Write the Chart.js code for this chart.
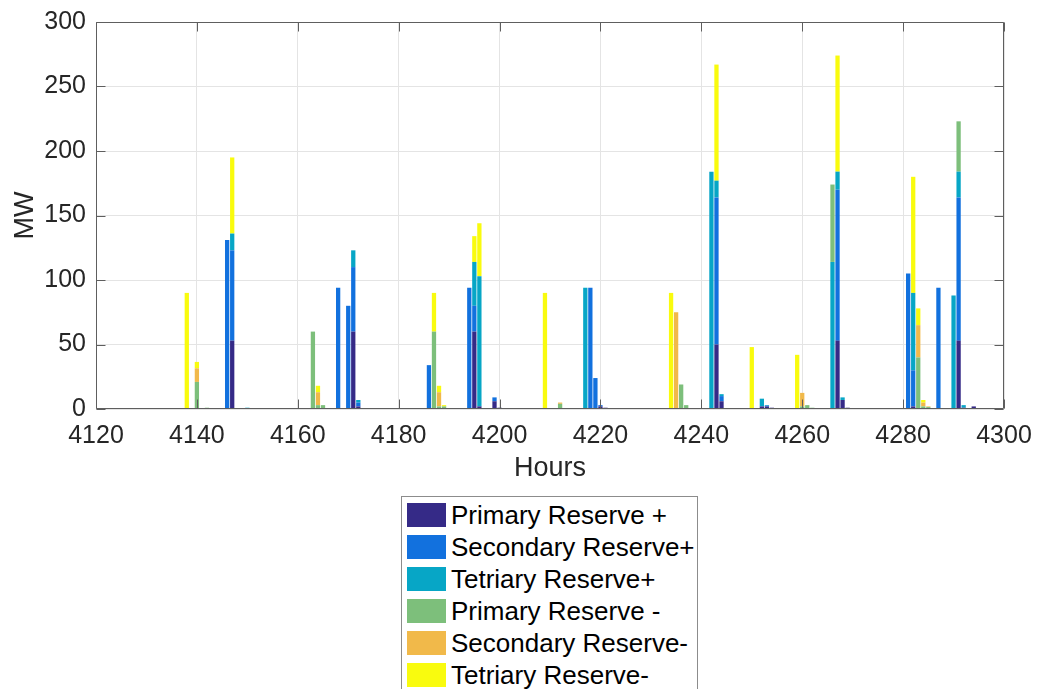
<!DOCTYPE html>
<html>
<head>
<meta charset="utf-8">
<script src="https://cdn.jsdelivr.net/npm/chart.js@4.4.1/dist/chart.umd.min.js"></script>
<style>
  body { margin: 0; background: #fff; font-family: "Liberation Sans", Arial, Helvetica, sans-serif; }
  #wrap { position: relative; width: 1037px; height: 689px; overflow: hidden; }
  #legend {
    position: absolute; left: 401px; top: 496px; width: 297px; height: 220px;
    border: 1px solid #8c8c8c; background: #fff; box-sizing: border-box;
  }
  .item { position: absolute; left: 5px; height: 24px; }
  .swatch { position: absolute; left: 0; top: 0; width: 39px; height: 24px; }
  .label { position: absolute; left: 44px; top: -3px; font-size: 26px; line-height: 30px; color: #000; white-space: nowrap; }
</style>
</head>
<body>
<div id="wrap">
  <canvas id="chart" width="1037" height="484"></canvas>
  <div id="legend"></div>
</div>
<script>
let hours = [
  4138, 4140, 4142, 4146, 4147, 4150, 4163, 4164, 4165, 4166,
  4168, 4170, 4171, 4172, 4173, 4186, 4187, 4188, 4189, 4194,
  4195, 4196, 4199, 4200, 4209, 4212, 4213, 4217, 4218, 4219,
  4220, 4221, 4234, 4235, 4236, 4237, 4242, 4243, 4244, 4250,
  4252, 4253, 4254, 4259, 4260, 4261, 4262, 4266, 4267, 4268,
  4269, 4281, 4282, 4283, 4284, 4285, 4287, 4290, 4291, 4292, 4294
];

let primaryUp = [
  0, 0, 0, 0, 53, 0, 0, 0, 0, 0,
  0, 0, 60, 2, 0, 0, 0, 0, 0, 0,
  60, 2, 6, 1, 0, 0, 0, 0, 0, 0,
  2, 1, 0, 0, 0, 0, 0, 50, 6, 0,
  2, 2, 1, 0, 0, 0, 0, 0, 53, 7,
  1, 0, 2, 0, 0, 0, 0, 0, 53, 1, 2
];
let secondaryUp = [
  0, 0, 0, 131, 70, 0, 0, 0, 0, 0,
  94, 80, 50, 3, 0.5, 34, 0, 0, 0, 94,
  20, 0, 3, 0, 0, 0, 0, 0, 94, 24,
  1, 0, 0, 0, 0, 0, 0, 114, 4, 0,
  0, 0.6, 0, 0, 0, 0, 0, 0, 117, 0,
  0, 105, 28, 0, 0, 0, 94, 0, 111, 0, 0
];
let tertiaryUp = [
  0, 0, 0, 0, 13, 1, 0, 0, 0, 0,
  0, 0, 13, 2, 0, 0, 0, 0, 0, 0,
  34, 101, 0, 0, 0, 0, 0, 94, 0, 0,
  0, 0, 0, 0, 0, 0, 184, 13, 1.5, 0,
  6, 0.5, 0, 0, 0, 0, 0, 114, 14, 2,
  0, 0, 60, 0, 0, 0, 0, 88, 20, 2, 0
];
let primaryDown = [
  0, 21, 1, 0, 0, 0, 60, 3, 3, 0.5,
  0, 0, 0, 0, 0, 0, 60, 2, 2, 0,
  0, 0, 0, 0, 0, 4, 0.5, 0, 0, 0,
  0, 0, 0, 0, 19, 3, 0, 0, 0, 0,
  0, 0, 0, 0, 2, 3, 1, 60, 0, 0,
  0, 0, 0, 40, 2, 1.5, 0, 0, 39, 0, 0
];
let secondaryDown = [
  0, 10.5, 0, 0, 0, 0, 0, 10, 0, 0,
  0, 0, 0, 0, 0, 0, 0, 11, 0, 0,
  0, 0, 0, 0, 0, 1, 0, 0, 0, 0,
  0, 0, 0, 75, 0, 0, 0, 0, 0, 0,
  0, 0, 0, 0, 10.5, 0, 0, 0, 0, 0,
  0, 0, 0, 25, 3, 0.5, 0, 0, 0, 0, 0
];
let tertiaryDown = [
  90, 5, 0, 0, 59, 0, 0, 5, 0, 0,
  0, 0, 0, 0, 0, 0, 30, 5, 1, 0,
  20, 41, 0, 0, 90, 0, 0, 0, 0, 0,
  0, 0, 90, 0, 0, 0, 0, 90, 0, 48,
  0, 0, 0, 42, 0, 0, 0, 0, 90, 0,
  0, 0, 90, 13, 2, 0, 0, 0, 0, 0, 0
];

let seriesNames = ["Primary Reserve +", "Secondary Reserve+", "Tetriary Reserve+",
                   "Primary Reserve -", "Secondary Reserve-", "Tetriary Reserve-"];
let seriesColors = ["#352a87", "#1271de", "#07a6c6", "#7dbf7b", "#f1b94a", "#f9fb0e"];
let seriesValues = [primaryUp, secondaryUp, tertiaryUp, primaryDown, secondaryDown, tertiaryDown];

let xTicks = [4120, 4300, 20];
let yTicks = [0, 300, 50];

let axisColor = "#5e5e5e";
let font = "'Liberation Sans', Arial, Helvetica, sans-serif";

// box around the axes with inward ticks, like matlab
let boxPlugin = {
  id: "box",
  afterDatasetsDraw(chart) {
    let ctx = chart.ctx;
    let a = chart.chartArea;
    let L = Math.round(a.left) + 0.5, R = Math.round(a.right) - 0.5;
    let T = Math.round(a.top) + 0.5, B = Math.round(a.bottom) - 0.5;
    ctx.save();
    ctx.strokeStyle = axisColor;
    ctx.lineWidth = 1;
    ctx.beginPath();
    ctx.rect(L, T, R - L, B - T);
    chart.scales.x.ticks.forEach(t => {
      let px = Math.round(chart.scales.x.getPixelForValue(t.value)) + 0.5;
      ctx.moveTo(px, B); ctx.lineTo(px, B - 9);
      ctx.moveTo(px, T); ctx.lineTo(px, T + 9);
    });
    chart.scales.y.ticks.forEach(t => {
      let py = Math.round(chart.scales.y.getPixelForValue(t.value)) + 0.5;
      ctx.moveTo(L, py); ctx.lineTo(L + 9, py);
      ctx.moveTo(R, py); ctx.lineTo(R - 9, py);
    });
    ctx.stroke();
    ctx.restore();
  }
};

let datasets = [];
for (let i = 0; i < seriesNames.length; i++) {
  datasets.push({
    label: seriesNames[i],
    data: seriesValues[i],
    backgroundColor: seriesColors[i],
    borderWidth: 0,
    barPercentage: 0.85,
    categoryPercentage: 1
  });
}

let chart = new Chart(document.getElementById("chart"), {
  type: "bar",
  data: { labels: hours, datasets: datasets },
  options: {
    responsive: false,
    maintainAspectRatio: false,
    animation: false,
    devicePixelRatio: 1,
    layout: { padding: { top: 22, right: 33, left: 0, bottom: 0 } },
    plugins: { legend: { display: false }, tooltip: { enabled: false } },
    scales: {
      x: {
        type: "linear",
        stacked: true,
        offset: false,
        min: xTicks[0], max: xTicks[1],
        afterFit: s => { s.height = 75; s.paddingLeft = 0; s.paddingRight = 0; },
        border: { display: false },
        grid: { color: "#e4e4e4", drawTicks: false, offset: false },
        ticks: {
          stepSize: xTicks[2], padding: 12, color: "#262626", maxRotation: 0,
          font: { family: font, size: 25 },
          callback: v => String(v)
        },
        title: {
          display: true, text: "Hours", color: "#262626",
          font: { family: font, size: 27, lineHeight: 1 },
          padding: { top: 0, bottom: 2 }
        }
      },
      y: {
        stacked: true,
        min: yTicks[0], max: yTicks[1],
        afterFit: s => { s.width = 96; s.paddingTop = 0; s.paddingBottom = 0; },
        border: { display: false },
        grid: { color: "#e4e4e4", drawTicks: false },
        ticks: {
          stepSize: yTicks[2], padding: 10, color: "#262626",
          font: { family: font, size: 25 }
        },
        title: {
          display: true, text: "MW", color: "#262626",
          font: { family: font, size: 27, lineHeight: 1 },
          padding: { top: 12, bottom: 0 }
        }
      }
    }
  },
  plugins: [boxPlugin]
});

// legend in one column, built from the chart datasets
let legend = document.getElementById("legend");
chart.data.datasets.forEach((ds, i) => {
  let item = document.createElement("div");
  item.className = "item";
  item.style.top = (6 + i * 32) + "px";
  item.innerHTML = '<div class="swatch" style="background:' + ds.backgroundColor + '"></div>' +
                   '<div class="label">' + ds.label + '</div>';
  legend.appendChild(item);
});
</script>
</body>
</html>
